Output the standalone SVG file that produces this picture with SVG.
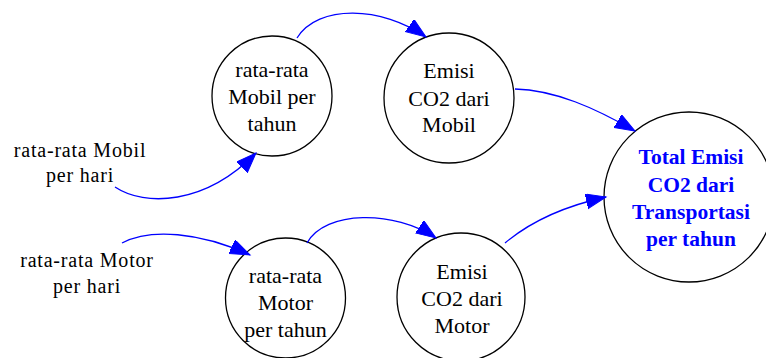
<svg xmlns="http://www.w3.org/2000/svg" width="766" height="358" viewBox="0 0 766 358">
  <style>
    .node circle { fill: #ffffff; stroke: #000000; stroke-width: 1.3; }
    text { font-family: 'Liberation Serif', 'Times New Roman', serif; text-anchor: middle; }
    .lbl { font-size: 22px; fill: #000000; }
    .src { font-size: 20px; letter-spacing: 0.8px; fill: #000000; }
    .out { font-size: 21.5px; font-weight: bold; fill: #0000ff; }
    .edge { fill: none; stroke: #0000ff; stroke-width: 1.3; }
  </style>
  <defs>
    <marker id="arrow" markerUnits="userSpaceOnUse" markerWidth="22" markerHeight="16" refX="20" refY="7.5" orient="auto">
      <polygon points="0,0 20,7.5 0,15" fill="#0000ff" stroke="#0000ff" stroke-width="1"/>
    </marker>
  </defs>

  <rect width="766" height="358" fill="#ffffff"/>

  <!-- plain inputs -->
  <g id="mobil-hari">
    <text class="src" x="80" y="156.5">rata-rata Mobil</text>
    <text class="src" x="80" y="181.5">per hari</text>
  </g>
  <g id="motor-hari">
    <text class="src" x="87" y="267">rata-rata Motor</text>
    <text class="src" x="87" y="292.5">per hari</text>
  </g>

  <!-- circled nodes -->
  <g id="mobil-tahun" class="node">
    <circle cx="272" cy="96" r="60"/>
    <text class="lbl" x="272" y="77">rata-rata</text>
    <text class="lbl" x="272" y="104">Mobil per</text>
    <text class="lbl" x="272" y="131">tahun</text>
  </g>
  <g id="emisi-mobil" class="node">
    <circle cx="449" cy="98" r="65"/>
    <text class="lbl" x="449" y="78">Emisi</text>
    <text class="lbl" x="449" y="105.5">CO2 dari</text>
    <text class="lbl" x="449" y="132">Mobil</text>
  </g>
  <g id="motor-tahun" class="node">
    <circle cx="285.5" cy="298" r="60"/>
    <text class="lbl" x="285.5" y="283">rata-rata</text>
    <text class="lbl" x="285.5" y="310">Motor</text>
    <text class="lbl" x="285.5" y="337">per tahun</text>
  </g>
  <g id="emisi-motor" class="node">
    <circle cx="461" cy="297" r="64"/>
    <text class="lbl" x="462" y="278.5">Emisi</text>
    <text class="lbl" x="462" y="305.5">CO2 dari</text>
    <text class="lbl" x="462" y="332.5">Motor</text>
  </g>
  <g id="total-emisi" class="node">
    <circle cx="689" cy="197" r="85"/>
    <text class="out" x="691" y="164">Total Emisi</text>
    <text class="out" x="691" y="191.5">CO2 dari</text>
    <text class="out" x="691" y="218.5">Transportasi</text>
    <text class="out" x="691" y="245.5">per tahun</text>
  </g>

  <!-- connectors -->
  <g id="edges">
    <path class="edge" marker-end="url(#arrow)" d="M115,187 C145,207 205,205 256,153"/>
    <path class="edge" marker-end="url(#arrow)" d="M122,243 C150,228 200,232 250,255"/>
    <path class="edge" marker-end="url(#arrow)" d="M297,38 C318,4 382,6 426,37"/>
    <path class="edge" marker-end="url(#arrow)" d="M307,243 C325,210 395,210 436,238"/>
    <path class="edge" marker-end="url(#arrow)" d="M515,89 C555,90 595,108 635,131"/>
    <path class="edge" marker-end="url(#arrow)" d="M505,243 C530,222 565,206 606,197"/>
  </g>
</svg>
